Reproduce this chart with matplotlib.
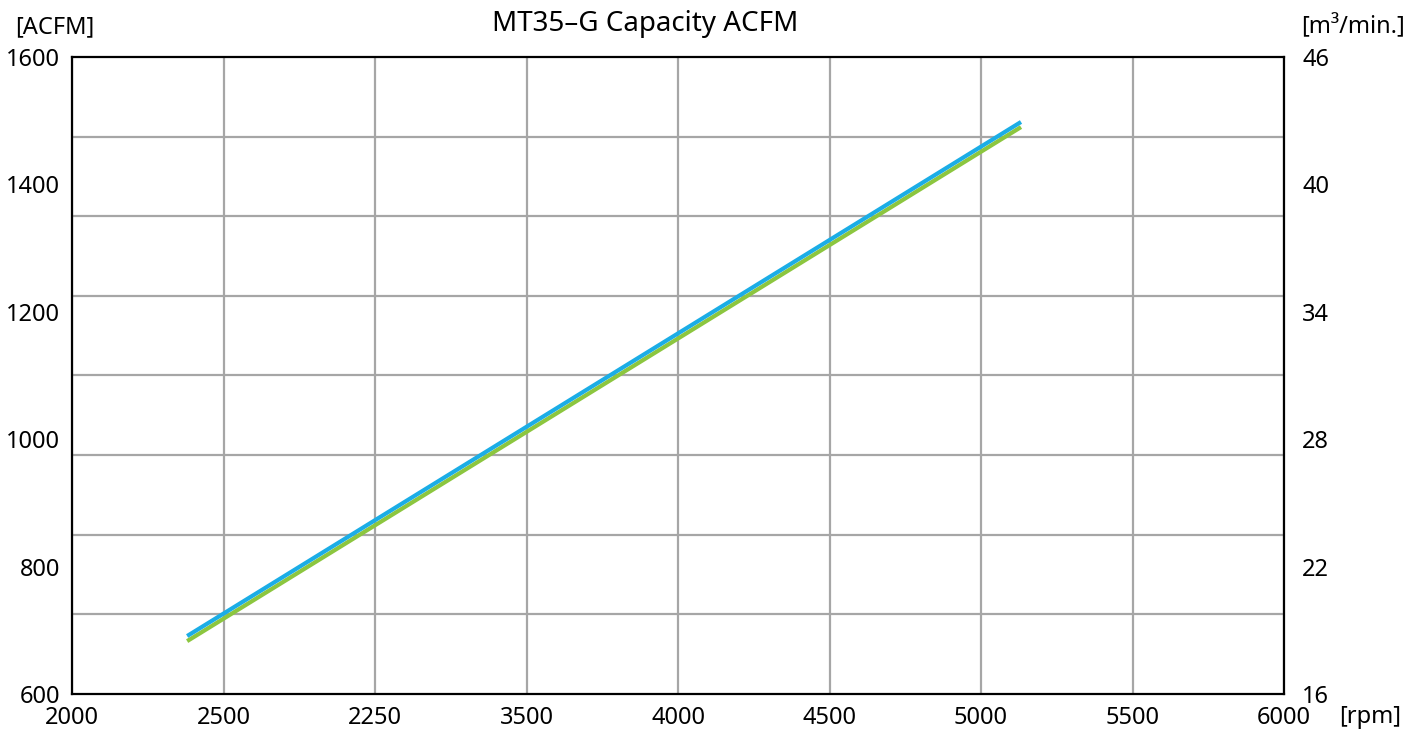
import matplotlib
matplotlib.use("Agg")
import numpy as np
import matplotlib.pyplot as plt
from matplotlib.ticker import FixedLocator, NullFormatter

plt.rcParams['font.family'] = ['Noto Sans', 'DejaVu Sans']

# Data
rpm_blue = [2380, 5132]
acfm_blue = [691, 1498]
rpm_green = [2380, 5132]
acfm_green = [683, 1490]

x_ticks = [2000, 2500, 3000, 3500, 4000, 4500, 5000, 5500, 6000]
x_tick_labels = ["2000", "2500", "2250", "3500", "4000", "4500", "5000", "5500", "6000"]
y_ticks = [600, 800, 1000, 1200, 1400, 1600]
y2_ticks = [16, 22, 28, 34, 40, 46]
y_grid = np.linspace(600, 1600, 9)

W, H = 1417, 735
fig = plt.figure(figsize=(W / 100, H / 100), dpi=100)
L, R, T, B = 72, 1284, 57, 694
ax = fig.add_axes([L / W, 1 - B / H, (R - L) / W, (B - T) / H])

ax.set_xlim(2000, 6000)
ax.set_ylim(600, 1600)

ax.xaxis.set_major_locator(FixedLocator(x_ticks))
ax.set_xticklabels(x_tick_labels)
ax.yaxis.set_major_locator(FixedLocator(y_ticks))
ax.yaxis.set_minor_locator(FixedLocator(y_grid))
ax.yaxis.set_minor_formatter(NullFormatter())

ax.grid(True, axis='x', which='major', color='#a6a6a6', linewidth=1.6)
ax.grid(True, axis='y', which='minor', color='#a6a6a6', linewidth=1.6)
ax.grid(False, axis='y', which='major')
ax.set_axisbelow(True)

FS = 17
ax.tick_params(axis='both', which='both', length=0, labelsize=FS)
ax.tick_params(axis='x', pad=9)
ax.tick_params(axis='y', pad=8.5)
for s in ax.spines.values():
    s.set_linewidth(1.6)
    s.set_color('black')

ax.plot(rpm_green, acfm_green, color='#8cc63f', linewidth=3.0, solid_capstyle='butt', zorder=3)
ax.plot(rpm_blue, acfm_blue, color='#1badE6', linewidth=3.0, solid_capstyle='butt', zorder=4)

ax2 = ax.twinx()
ax2.set_ylim(16, 46)
ax2.yaxis.set_major_locator(FixedLocator(y2_ticks))
ax2.tick_params(axis='y', length=0, labelsize=FS, pad=13)
for s in ax2.spines.values():
    s.set_visible(False)

fig.text(645 / W, 1 - 24 / H, "MT35\u2013G Capacity ACFM", ha='center', va='center', fontsize=20)
fig.text(15 / W, 1 - 27 / H, "[ACFM]", ha='left', va='center', fontsize=FS)
fig.text(1301 / W, 1 - 27 / H, "[m\u00b3/min.]", ha='left', va='center', fontsize=FS)
fig.text(1401 / W, 1 - 717 / H, "[rpm]", ha='right', va='center', fontsize=FS)

fig.savefig("out.png", dpi=100)
